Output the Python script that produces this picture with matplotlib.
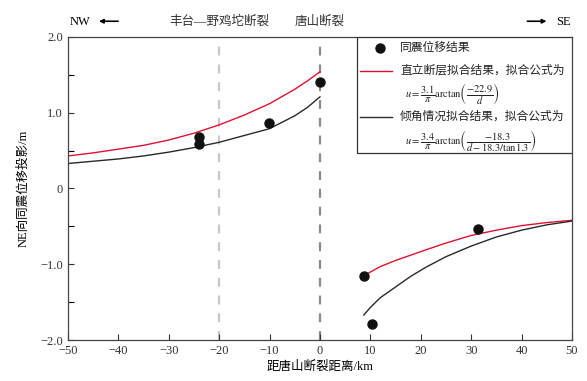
import matplotlib as mpl
mpl.use('Agg')
import matplotlib.pyplot as plt
from matplotlib.patches import Rectangle

plt.rcParams['font.family'] = ['Liberation Serif', 'Noto Sans CJK SC']
plt.rcParams['mathtext.fontset'] = 'stix'

# observed coseismic displacement (NE projection)
obs_x = [-24.1, -24.1, -10.1, 0.1, 8.7, 10.3, 31.4]
obs_y = [0.68, 0.59, 0.87, 1.40, -1.16, -1.79, -0.53]

# vertical fault fit
red_left_x = [-50, -45, -40, -35, -30, -25, -20, -15, -10, -5, -2.5, 0]
red_left_y = [0.43, 0.47, 0.52, 0.57, 0.64, 0.73, 0.84, 0.97, 1.12, 1.31, 1.42, 1.54]
red_right_x = [8.7, 12, 15, 18, 21, 25, 30, 35, 40, 45, 50]
red_right_y = [-1.15, -1.03, -0.95, -0.88, -0.81, -0.72, -0.62, -0.55, -0.49, -0.45, -0.42]

# dipping fault fit
blk_left_x = [-50, -45, -40, -35, -30, -25, -20, -15, -10, -5, -2.5, 0]
blk_left_y = [0.33, 0.36, 0.39, 0.43, 0.48, 0.54, 0.61, 0.70, 0.79, 0.96, 1.07, 1.21]
blk_right_x = [8.7, 10, 12, 15, 18, 21, 25, 30, 35, 40, 45, 50]
blk_right_y = [-1.67, -1.57, -1.44, -1.30, -1.16, -1.04, -0.90, -0.76, -0.64, -0.55, -0.48, -0.43]

faults_x = [-20, 0]
fault_names = ['丰台—野鸡坨断裂', '唐山断裂']

leg_labels = ['同震位移结果', '直立断层拟合结果，拟合公式为', '倾角情况拟合结果，拟合公式为']
leg_formulas = [
    r'$u=\dfrac{3.1}{\pi}\mathrm{arctan}\left(\dfrac{-22.9}{d}\right)$',
    r'$u=\dfrac{3.4}{\pi}\mathrm{arctan}\left(\dfrac{-18.3}{d-18.3/\mathrm{tan}1.3}\right)$',
]

red = '#e01030'
blk = '#2a2a2a'

fig = plt.figure(figsize=(5.87, 3.81), dpi=100)
ax = fig.add_axes([0.1158, 0.1076, 0.8586, 0.7953])

ax.axvline(faults_x[0], color='#c8c8c8', lw=1.6, ls=(0, (4, 4)), zorder=1)
ax.axvline(faults_x[1], color='#8a8a8a', lw=1.6, ls=(0, (4, 4)), zorder=1)

ax.plot(red_left_x, red_left_y, color=red, lw=1.0)
ax.plot(red_right_x, red_right_y, color=red, lw=1.0)
ax.plot(blk_left_x, blk_left_y, color=blk, lw=1.0)
ax.plot(blk_right_x, blk_right_y, color=blk, lw=1.0)
ax.plot(obs_x, obs_y, 'o', color='#111111', ms=6.5, zorder=5)

ax.set_xlim(-50, 50)
ax.set_ylim(-2, 2)
ax.set_xticks(range(-50, 51, 10))
ax.set_xticklabels(['\u221250', '\u221240', '\u221230', '\u221220', '\u221210',
                    '0', '10', '20', '30', '40', '50'])
ax.set_yticks([-2, -1, 0, 1, 2])
ax.set_yticklabels(['\u22122.0', '\u22121.0', '0', '1.0', '2.0'])
ax.set_yticks([-1.5, -0.5, 0.5, 1.5], minor=True)
ax.tick_params(direction='in', labelsize=9, length=4, width=0.8, colors='#333333')
ax.tick_params(which='minor', direction='in', length=4, width=0.8)
for s in ax.spines.values():
    s.set_color('#444444')
    s.set_linewidth(0.9)

ax.set_xlabel('距唐山断裂距离/km', fontsize=9, labelpad=3)
ax.set_ylabel('NE向同震位移投影/m', fontsize=9, labelpad=8)

for fx, name in zip(faults_x, fault_names):
    ax.text(fx, 1.03, name, transform=ax.get_xaxis_transform(), ha='center',
            va='bottom', fontsize=9, color='#333333')

ax.text(0.004, 1.03, 'NW', transform=ax.transAxes, ha='left', va='bottom', fontsize=9)
ax.annotate('', xy=(0.056, 1.052), xytext=(0.105, 1.052), xycoords='axes fraction',
            arrowprops=dict(arrowstyle='-|>', color='black', lw=1.2, mutation_scale=6))
ax.text(0.998, 1.03, 'SE', transform=ax.transAxes, ha='right', va='bottom', fontsize=9)
ax.annotate('', xy=(0.955, 1.052), xytext=(0.906, 1.052), xycoords='axes fraction',
            arrowprops=dict(arrowstyle='-|>', color='black', lw=1.2, mutation_scale=6))

# hand-built legend box in the upper right corner
tr = ax.transAxes
ax.add_patch(Rectangle((0.5734, 0.617), 0.4266, 0.383, transform=tr, facecolor='white',
                       edgecolor='#333333', lw=0.9, zorder=6))
ax.plot([0.619], [0.965], 'o', color='#111111', ms=6.5, transform=tr, zorder=7,
        clip_on=False)
ax.plot([0.579, 0.643], [0.889, 0.889], color=red, lw=1.0, transform=tr, zorder=7)
ax.plot([0.579, 0.643], [0.736, 0.736], color=blk, lw=1.0, transform=tr, zorder=7)
for yy, lab in zip([0.965, 0.889, 0.736], leg_labels):
    ax.text(0.659, yy, lab, transform=tr, ha='left', va='center', fontsize=8.5,
            color='#222222', zorder=7)
for yy, frm in zip([0.813, 0.658], leg_formulas):
    ax.text(0.669, yy, frm, transform=tr, ha='left', va='center', fontsize=7.5,
            color='#222222', zorder=7)

fig.savefig('out.png', dpi=100)
